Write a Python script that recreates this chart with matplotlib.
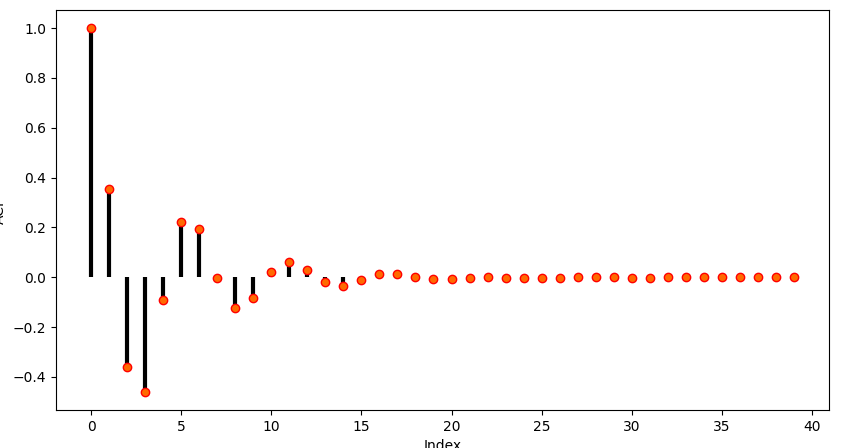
import matplotlib
matplotlib.use("Agg")
import matplotlib.pyplot as plt
import numpy as np

lags = list(range(40))
acf = [1.0, 0.355, -0.36, -0.46, -0.09, 0.22, 0.195, -0.005, -0.125, -0.085,
       0.02, 0.06, 0.03, -0.02, -0.035, -0.01, 0.012, 0.012, 0.0, -0.008,
       -0.008, -0.002, 0.002, -0.002, -0.004, -0.004, -0.004, -0.001, 0.0, -0.001,
       -0.003, -0.003, -0.001, 0.0, 0.0, 0.0, 0.0, 0.0, 0.0, 0.0]

fig = plt.figure(figsize=(8.57, 4.48), dpi=100)
ax = fig.add_axes([56/857, 38/448, 773/857, 400/448])
ax.vlines(lags, 0, acf, colors="black", linewidth=3)
ax.plot(lags, acf, "o", markerfacecolor="#ff6a00", markeredgecolor="red", markersize=6)
ax.set_xlabel("Index")
ax.set_ylabel("ACF")
ax.set_xticks(range(0, 41, 5))
fig.savefig("out.png")
